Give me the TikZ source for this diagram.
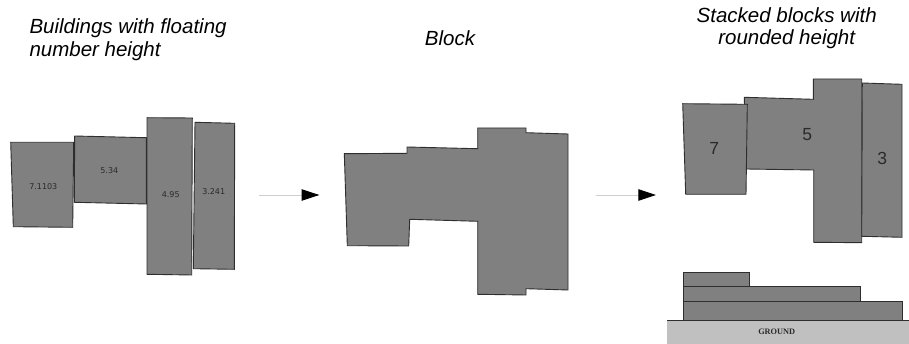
\documentclass[tikz,border=0pt]{standalone}
\usepackage{fontspec}
\setmainfont{Liberation Sans}
\newfontfamily\labelfont{DejaVu Sans}
\newfontfamily\groundfont{Liberation Serif}
\usetikzlibrary{arrows.meta}
\definecolor{bldfill}{HTML}{808080}
\definecolor{bldline}{HTML}{2E2E2E}
\definecolor{groundfill}{HTML}{C0C0C0}
\definecolor{arrline}{HTML}{CFCFCF}
\definecolor{lbltext}{HTML}{2A2A2A}
\begin{document}
\begin{tikzpicture}[x=1pt,y=-1pt,
  bld/.style={fill=bldfill,draw=bldline,line width=0.9pt,line join=miter},
  ttl/.style={inner sep=0pt,font=\fontsize{20.5}{23}\selectfont\itshape,text=black},
  smalllbl/.style={inner sep=0pt,font=\labelfont\fontsize{8}{9.6}\selectfont,text=lbltext},
  biglbl/.style={inner sep=0pt,font=\fontsize{17.5}{20}\selectfont,text=lbltext},
  flow/.style={draw=arrline,line width=0.8pt,-{Triangle[length=17.6pt,width=11.4pt,black]}}]
\useasboundingbox (0,0) rectangle (909,344);

% titles
\node[ttl,anchor=base west] (t1a) at (29.3,33.3) {Buildings with floating};
\node[ttl,anchor=base west] (t1b) at (29.3,56.7) {number height};
\node[ttl,anchor=base] (t2) at (450,45.3) {Block};
\node[ttl,anchor=base] (t3a) at (786.7,22.3) {Stacked blocks with};
\node[ttl,anchor=base] (t3b) at (786.7,45) {rounded height};

% left: buildings with floating heights
\draw[bld] (10.7,142.3) -- (73.7,142.3) -- (72.7,227.3) -- (13.3,226.7) -- cycle;
\draw[bld] (74.7,136) -- (146.3,137.7) -- (146.3,204) -- (74.3,202.3) -- cycle;
\draw[bld] (147,117.7) -- (192.3,118) -- (191.7,275) -- (147,274.3) -- cycle;
\draw[bld] (195,122.3) -- (234.7,123.3) -- (234.3,269.3) -- (193.3,268.7) -- cycle;
\node[smalllbl] (l1) at (43.3,186.7) {7.1103};
\node[smalllbl] (l2) at (109.3,170.3) {5.34};
\node[smalllbl] (l3) at (170.7,194.3) {4.95};
\node[smalllbl] (l4) at (213.7,192) {3.241};

% arrow 1
\coordinate (a1s) at (259.3,195);
\coordinate (a1e) at (319.3,195);
\draw[flow] (a1s) -- (a1e);

% middle: merged block
\draw[bld] (344.3,153.7) -- (407,153.3) -- (407,147) -- (477.7,148.7) -- (477.7,128)
  -- (526,128) -- (526,132.7) -- (568,134) -- (568,290) -- (526,288.7) -- (526,295)
  -- (477.7,294.3) -- (477.7,221.3) -- (409.7,219.3) -- (408.7,246) -- (347.3,245.7) -- cycle;

% arrow 2
\coordinate (a2s) at (596,195);
\coordinate (a2e) at (656,195);
\draw[flow] (a2s) -- (a2e);

% right: stacked blocks (plan)
\draw[bld] (744.3,97.3) -- (813.3,99.3) -- (813.3,79) -- (861.7,79) -- (861.7,242.7)
  -- (813.7,242.3) -- (813.7,170) -- (746,169) -- cycle;
\draw[bld] (682.7,103.7) -- (747.3,104.3) -- (746,194.3) -- (685.7,194.3) -- cycle;
\draw[bld] (862.3,83) -- (902,84.3) -- (902,237.3) -- (861.7,236.3) -- cycle;
\node[biglbl] (r7) at (714.3,148.3) {7};
\node[biglbl] (r5) at (807.3,134.3) {5};
\node[biglbl] (r3) at (882.3,158.3) {3};

% right: stacked blocks (section)
\fill[groundfill] (667,320.7) rectangle (909,344);
\draw[bld] (683.3,301.7) rectangle (902.3,320.7);
\draw[bld] (683.3,286.7) rectangle (860.7,301.7);
\draw[bld] (683.3,272.3) rectangle (749.7,286.7);
\draw[draw=bldline,line width=0.9pt] (667,320.7) -- (909,320.7);
\node[inner sep=0pt,font=\groundfont\bfseries\fontsize{8.3}{10}\selectfont,text=lbltext] (gnd) at (776.7,331.7) {GROUND};
\end{tikzpicture}
\end{document}
